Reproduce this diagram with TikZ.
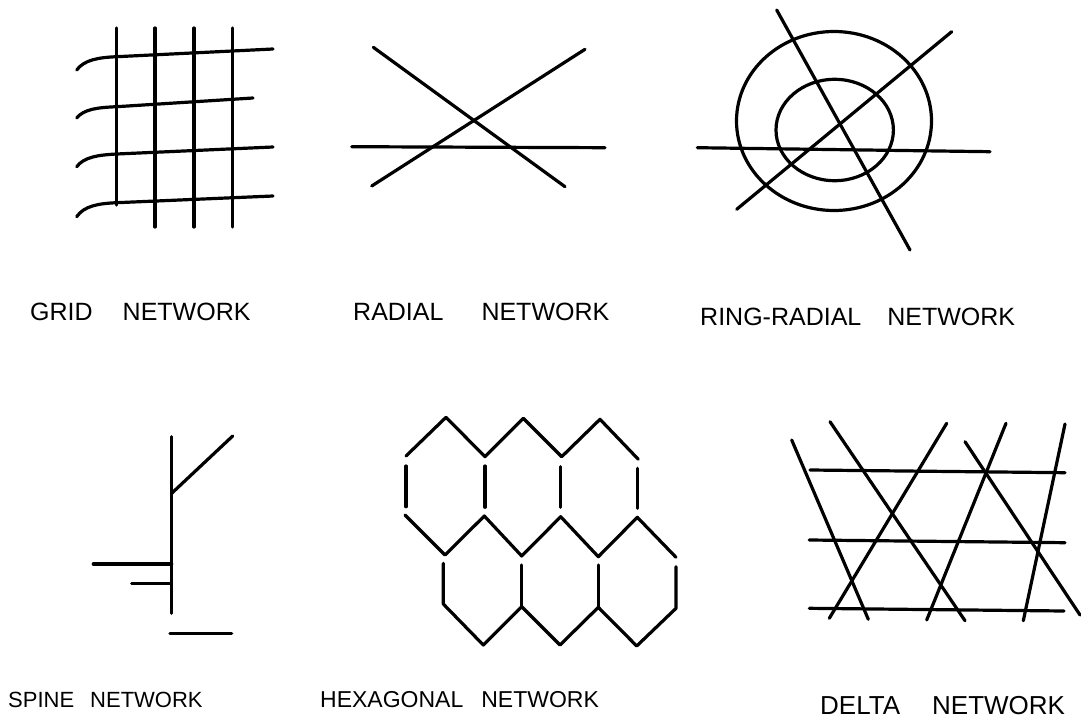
\documentclass[tikz,border=0pt]{standalone}
\usepackage{fontspec}
\setmainfont{Liberation Sans}
\begin{document}
\begin{tikzpicture}[x=1pt,y=-1pt,
  net/.style={line width=3.2pt,line cap=round,line join=round},
  lbl/.style={anchor=base west,inner sep=0pt,font=\fontsize{25}{29}\selectfont}]
\useasboundingbox (0,0) rectangle (1081,720);
% GRID
\draw[net] (116.7,28)--(116.7,205);
\draw[net] (155,28)--(155,227);
\draw[net] (194,28)--(194,227);
\draw[net] (232.7,28)--(232.7,227);
\draw[net] (76.7,70) .. controls (84,60) and (98,57.5) .. (116.7,56.7) -- (273,49);
\draw[net] (76.7,118) .. controls (84,109) and (98,107.5) .. (116.7,106.7) -- (253,98);
\draw[net] (76.7,166.7) .. controls (84,157) and (98,155) .. (116.7,154) -- (273,147);
\draw[net] (76.7,216.7) .. controls (84,206) and (98,203.5) .. (116.7,202.7) -- (273,196);
% RADIAL
\draw[net] (373.3,47.3)--(565,186.7);
\draw[net] (371.7,186)--(585,49.3);
\draw[net] (351.7,146.7)--(605,147.7);
% RING-RADIAL
\draw[net] (834,121) ellipse [x radius=97.5,y radius=89.5];
\draw[net] (834.7,130) ellipse [x radius=58.7,y radius=50.7];
\draw[net] (776.7,10)--(910,250);
\draw[net] (736.7,209.3)--(951.7,31.7);
\draw[net] (697.3,147.7)--(990,151.7);
% SPINE
\draw[net] (171.7,436.7)--(171.7,613.3);
\draw[net] (171.7,493.3)--(232.7,436);
\draw[net] (93.3,564)--(171.7,564);
\draw[net] (131.7,583.3)--(170.7,583.3);
\draw[net] (170,633.3)--(231.7,633.3);
% HEXAGONAL
\draw[net] (406,456)--(446,417.3)--(485,456.7)--(523.3,418.3)--(561.7,456.7)--(600,419.3)--(638.3,459.3);
\draw[net] (406,466)--(406,506.7);
\draw[net] (485,466)--(485,507.3);
\draw[net] (560.7,466.7)--(560.7,507.3);
\draw[net] (637.3,468.3)--(637.3,508.3);
\draw[net] (405,515)--(445,555)--(484.3,516)--(521.7,556)--(560.7,516.7)--(598.3,556.7)--(637.3,517.3)--(676,557.3);
\draw[net] (443.3,563.3)--(443.3,604)--(483.3,645)--(521.7,606.7)--(560,645)--(598.3,607.3)--(636.7,646)--(676,608.3)--(676,566.7);
\draw[net] (521.7,565)--(521.7,606.7);
\draw[net] (598.3,565)--(598.3,607.3);
% DELTA
\draw[net] (810,470)--(1065,472.7);
\draw[net] (809.3,540)--(1065,542.7);
\draw[net] (809.3,608.3)--(1064,611);
\draw[net] (791.7,440)--(868.3,619.3);
\draw[net] (830,421.7)--(965,620.7);
\draw[net] (946.7,423.3)--(829.3,618.3);
\draw[net] (1006,423.3)--(926.7,620);
\draw[net] (965,441.7)--(1080,615);
\draw[net] (1065,424)--(1023.3,620.7);
% LABELS
\node[lbl] (lgrid) at (30,320) {GRID\hspace{30pt}NETWORK};
\node[lbl] (lradial) at (353,320) {RADIAL\hspace{38pt}NETWORK};
\node[lbl] (lring) at (700,325) {RING-RADIAL\hspace{26pt}NETWORK};
\node[lbl,font=\fontsize{22}{26}\selectfont] (lspine) at (8,707) {SPINE\hspace{16pt}NETWORK};
\node[lbl,font=\fontsize{23}{27}\selectfont] (lhex) at (320,707) {HEXAGONAL\hspace{18pt}NETWORK};
\node[lbl,font=\fontsize{26}{30}\selectfont] (ldelta) at (820,714) {DELTA\hspace{32pt}NETWORK};
\end{tikzpicture}
\end{document}
